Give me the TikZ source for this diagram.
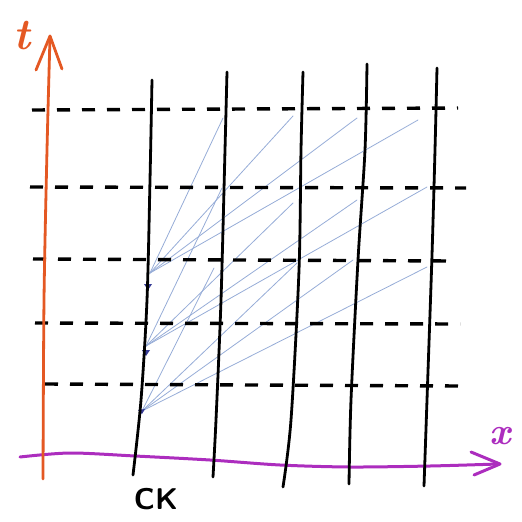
\documentclass[tikz,border=0pt]{standalone}
\usepackage{fontspec}
\definecolor{sigblue}{RGB}{150,172,215}
\definecolor{markblue}{RGB}{55,60,150}
\definecolor{axorange}{RGB}{228,88,35}
\definecolor{axmag}{RGB}{172,45,190}
\begin{document}
\begin{tikzpicture}[x=1pt,y=-1pt,line cap=round,line join=round,
  worldline/.style={line width=2.8pt,black},
  gridline/.style={line width=3.4pt,black,line cap=butt,dash pattern=on 13pt off 12pt},
  signal/.style={line width=0.8pt,sigblue},
  taxis/.style={line width=2.8pt,axorange},
  xaxis/.style={line width=3pt,axmag},
  marktip/.style={fill=markblue}]
\useasboundingbox (0,0) rectangle (522,522);
% convergence points on the CK line
\coordinate (c1) at (150,273);
\coordinate (c2) at (146,346);
\coordinate (c3) at (142,411);
% targets
\coordinate (a2) at (223,118);
\coordinate (a3) at (293,116);
\coordinate (a4) at (357,118);
\coordinate (a5) at (418,120);
\coordinate (b2) at (222,188);
\coordinate (b3) at (293,203);
\coordinate (b4) at (357,200);
\coordinate (b5) at (427,187);
\coordinate (d2) at (214,268);
\coordinate (d3) at (297,263);
\coordinate (d4) at (353,260);
\coordinate (d5) at (427,267);
% signals
\foreach \t in {a2,a3,a4,a5} \draw[signal] (c1) -- (\t);
\foreach \t in {b2,b3,b4,b5} \draw[signal] (c2) -- (\t);
\foreach \t in {d2,d3,d4,d5} \draw[signal] (c3) -- (\t);
% small arrow marks
\fill[marktip] (148,287) ++(-4,-3) -- ++(8,0) -- ++(-4,6) -- cycle;
\fill[marktip] (146,353) ++(-4,-3) -- ++(8,0) -- ++(-4,6) -- cycle;
\fill[marktip] (142,412) ++(-4,-2) -- ++(7,-1) -- ++(-3,5) -- cycle;
% dashed grid
\coordinate (r1a) at (32,110); \coordinate (r1b) at (458,108);
\coordinate (r2a) at (30,187); \coordinate (r2b) at (466,188);
\coordinate (r3a) at (33,259); \coordinate (r3b) at (452,261);
\coordinate (r4a) at (35,323); \coordinate (r4b) at (460,324);
\coordinate (r5a) at (45,384); \coordinate (r5b) at (460,386);
\draw[gridline] (r1a) -- (r1b);
\draw[gridline] (r2a) -- (r2b);
\draw[gridline] (r3a) -- (r3b);
\draw[gridline] (r4a) -- (r4b);
\draw[gridline] (r5a) -- (r5b);
% x axis
\draw[xaxis] plot[smooth] coordinates {(20,457) (70,453) (135,456) (210,460) (280,465) (350,467) (430,466) (498,464)};
\coordinate (xtip) at (500,464);
\draw[xaxis] (xtip) -- (471,452);
\draw[xaxis] (xtip) -- (474,475);
\node[text=axmag,font=\itshape\bfseries\fontsize{38}{38}\selectfont] (xlab) at (500,436) {x};
% world lines
\draw[worldline] plot[smooth] coordinates {(152,80) (150,180) (147,300) (141,400) (133,475)};
\draw[worldline] plot[smooth] coordinates {(227,72) (225,150) (221,300) (216,420) (213,477)};
\draw[worldline] plot[smooth] coordinates {(303,72) (301,150) (299,270) (291,420) (283,487)};
\draw[worldline] plot[smooth] coordinates {(367,64) (365,150) (358,260) (351,400) (349,484)};
\draw[worldline] plot[smooth] coordinates {(437,68) (435,150) (432,255) (427,400) (424,486)};
% t axis
\draw[taxis] plot[smooth] coordinates {(43,479) (44,300) (47,150) (50,37)};
\coordinate (ttip) at (50,36);
\draw[taxis] (ttip) -- (36,70);
\draw[taxis] (ttip) -- (62,69);
\node[text=axorange,font=\itshape\bfseries\fontsize{44}{44}\selectfont] (tlab) at (22,36) {t};
% label
\node[font=\sffamily\bfseries\fontsize{30}{30}\selectfont] (ck) at (156,499) {CK};
\end{tikzpicture}
\end{document}
